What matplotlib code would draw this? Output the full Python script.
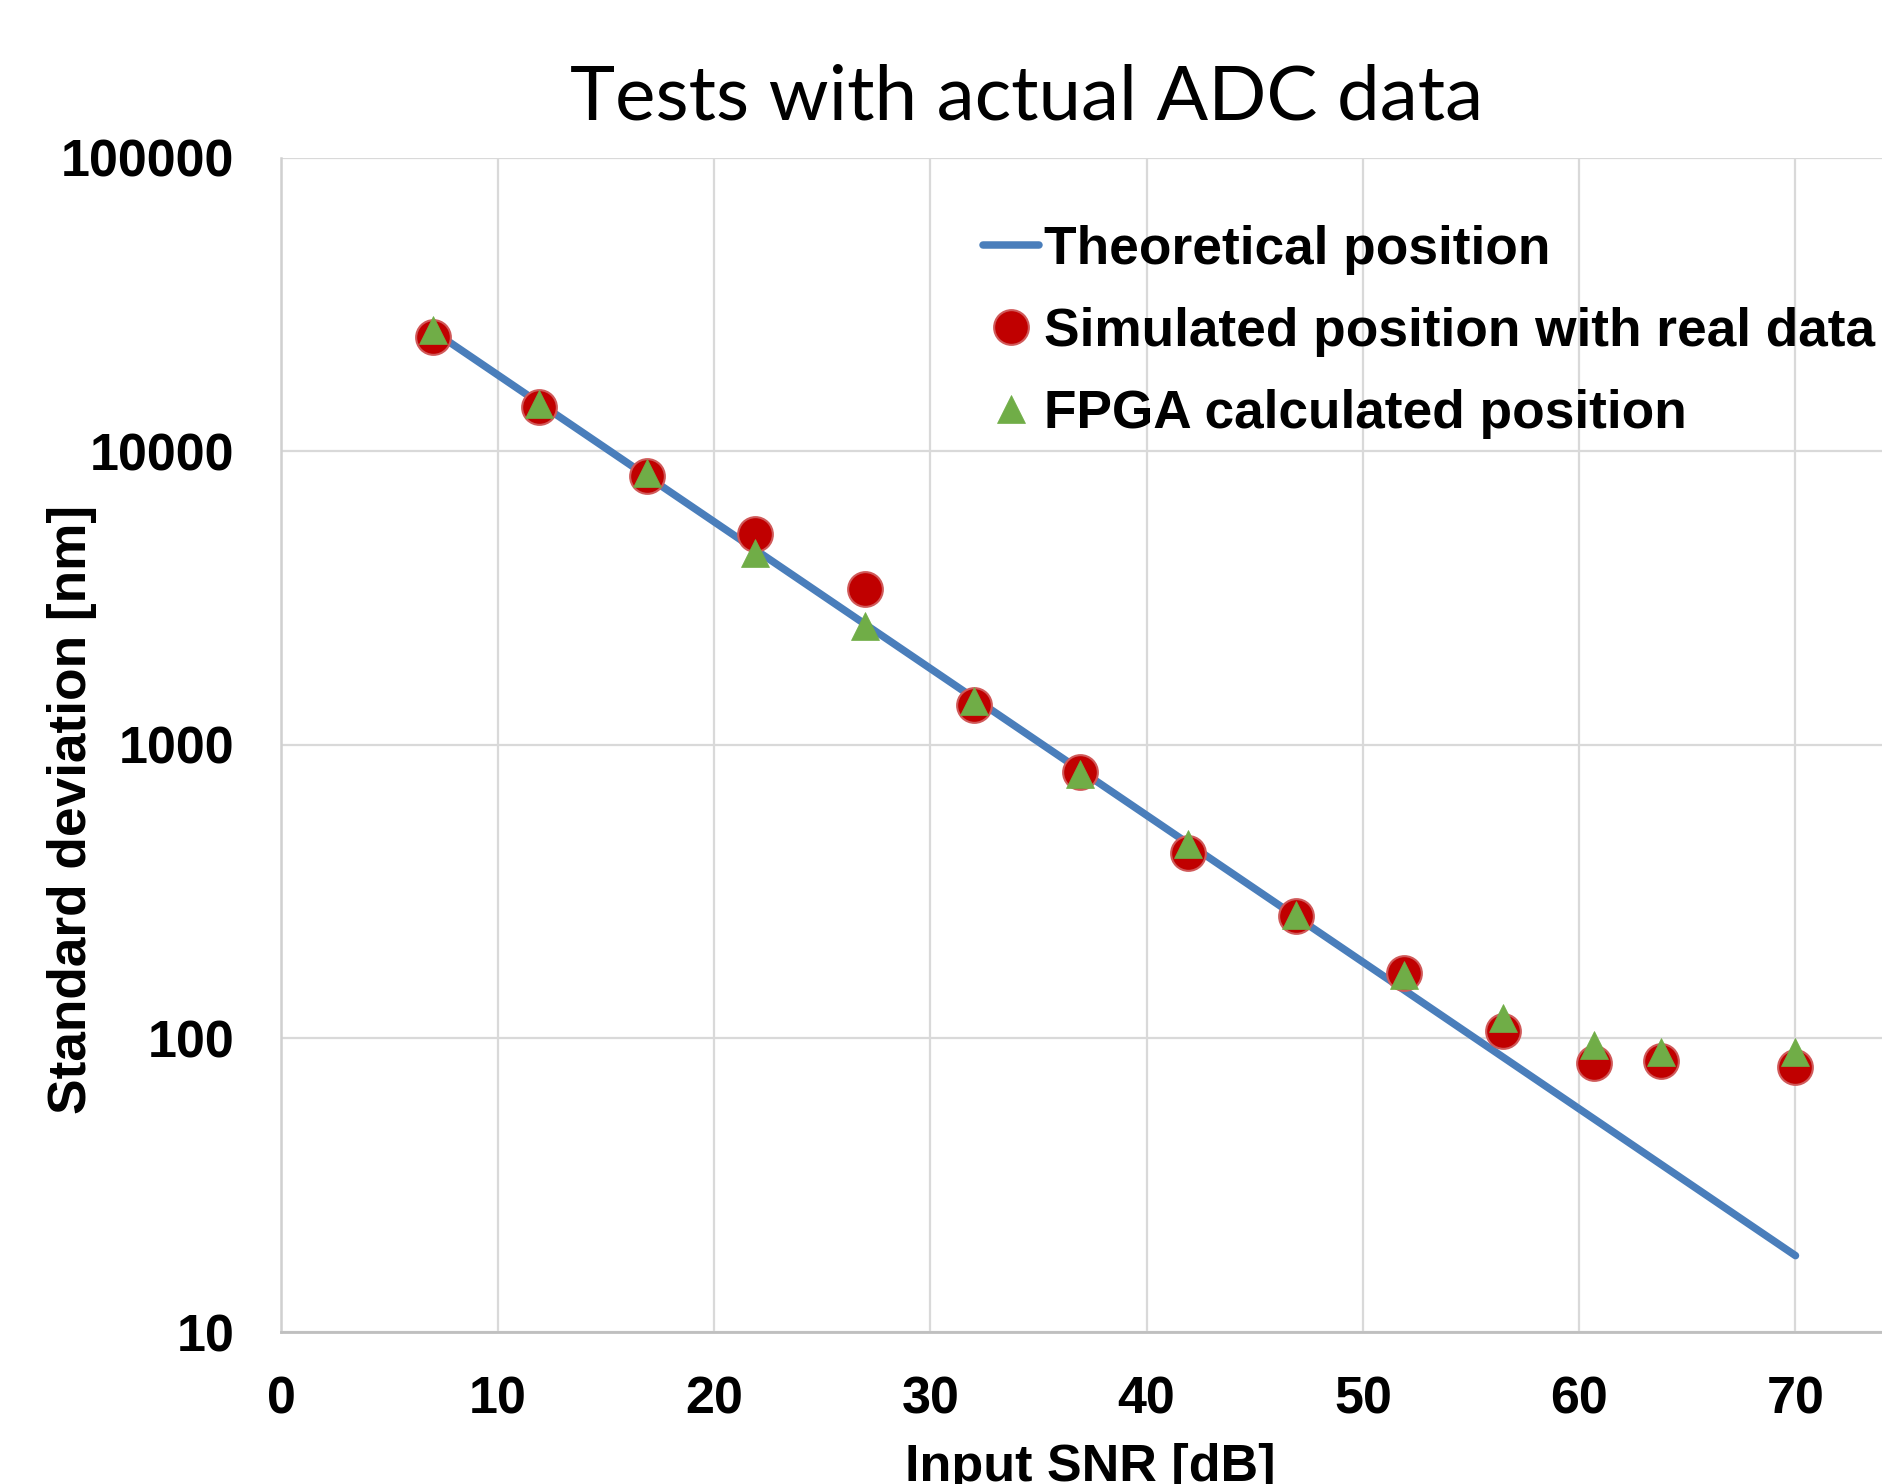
import matplotlib
matplotlib.use("Agg")
import matplotlib.pyplot as plt
from matplotlib.lines import Line2D

# ---- data ----
theo_snr = [7.0, 70.0]
theo_std = [25700, 18.2]

sim_snr = [7.0, 11.9, 16.9, 21.9, 27.0, 32.0, 36.9, 41.9, 46.9, 51.9, 56.5, 60.7, 63.8, 70.0]
sim_std = [24500, 14100, 8240, 5220, 3400, 1370, 811, 429, 261, 167, 105.6, 82.5, 83.5, 79.9]

fpga_snr = [7.0, 11.9, 16.9, 21.9, 27.0, 32.0, 36.9, 41.9, 46.9, 51.9, 56.5, 60.7, 63.8, 70.0]
fpga_std = [25900, 14500, 8410, 4510, 2540, 1410, 798, 459, 263, 164.5, 117.8, 94.8, 89.7, 89.6]

x_ticks = [0, 10, 20, 30, 40, 50, 60, 70]
y_ticks = [10, 100, 1000, 10000, 100000]
y_ticklabels = ["10", "100", "1000", "10000", "100000"]

title = "Tests with actual ADC data"
xlabel = "Input SNR [dB]"
ylabel = "Standard deviation [nm]"
labels = ["Theoretical position", "Simulated position with real data", "FPGA calculated position"]

# ---- figure ----
W, H = 1883, 1484
fig = plt.figure(figsize=(W / 100, H / 100), dpi=100)
ax = fig.add_axes([281.4 / W, 1 - 1332 / H, 1 - 281.4 / W, (1332 - 157.6) / H])

BOLD = dict(family="Liberation Sans", weight="bold", size=37.5)

ax.plot(theo_snr, theo_std, color="#4A7EBB", lw=5.4, solid_capstyle="round", zorder=3)
ax.plot(sim_snr, sim_std, ls="none", marker="o", ms=25, mfc="#C00000", mec="#D05A5A", mew=1.5, zorder=4)
ax.plot(fpga_snr, fpga_std, ls="none", marker="^", ms=20, mfc="#70AD47", mec="#70AD47", mew=0.5, zorder=5)

ax.set_yscale("log")
ax.set_xlim(0, (W - 281.4) / 21.63)
ax.set_ylim(10, 100000)
ax.set_xticks(x_ticks)
ax.set_yticks(y_ticks)
ax.set_yticklabels(y_ticklabels)
ax.yaxis.set_minor_locator(matplotlib.ticker.NullLocator())
ax.tick_params(axis="both", length=0)
ax.tick_params(axis="x", pad=31)
ax.tick_params(axis="y", pad=34)
for lab in ax.get_xticklabels() + ax.get_yticklabels():
    lab.set_fontfamily("Liberation Sans")
    lab.set_fontweight("bold")
    lab.set_fontsize(37.5)

ax.grid(True, which="major", color="#D9D9D9", lw=1.6)
ax.set_axisbelow(True)
for s in ["top", "right"]:
    ax.spines[s].set_visible(False)
ax.spines["left"].set_color("#D0D0D0")
ax.spines["left"].set_linewidth(1.8)
ax.spines["bottom"].set_color("#BFBFBF")
ax.spines["bottom"].set_linewidth(2.0)

# title and axis labels
fig.text(1027 / W, 1 - 120 / H, title, ha="center", va="baseline",
         family="Lato", size=55, color="black")
fig.text(1090 / W, 1 - 1443 / H, xlabel, ha="center", va="top", **BOLD)
fig.text(72 / W, 1 - 809 / H, ylabel, ha="center", va="center", rotation=90,
         family="Liberation Sans", weight="bold", size=38.3)

# legend
handles = [
    Line2D([], [], color="#4A7EBB", lw=5.4, solid_capstyle="round"),
    Line2D([], [], ls="none", marker="o", ms=25, mfc="#C00000", mec="#D05A5A", mew=1.5),
    Line2D([], [], ls="none", marker="^", ms=20, mfc="#70AD47", mec="#70AD47", mew=0.5),
]
leg = ax.legend(handles, labels, loc="upper left",
                bbox_to_anchor=(983 / W, 1 - 225 / H), bbox_transform=fig.transFigure,
                frameon=False, handlelength=1.05, handletextpad=0.1, labelspacing=0.6,
                borderpad=0, borderaxespad=0,
                prop=dict(family="Liberation Sans", weight="bold", size=38.3))

fig.savefig("out.png", dpi=100)
